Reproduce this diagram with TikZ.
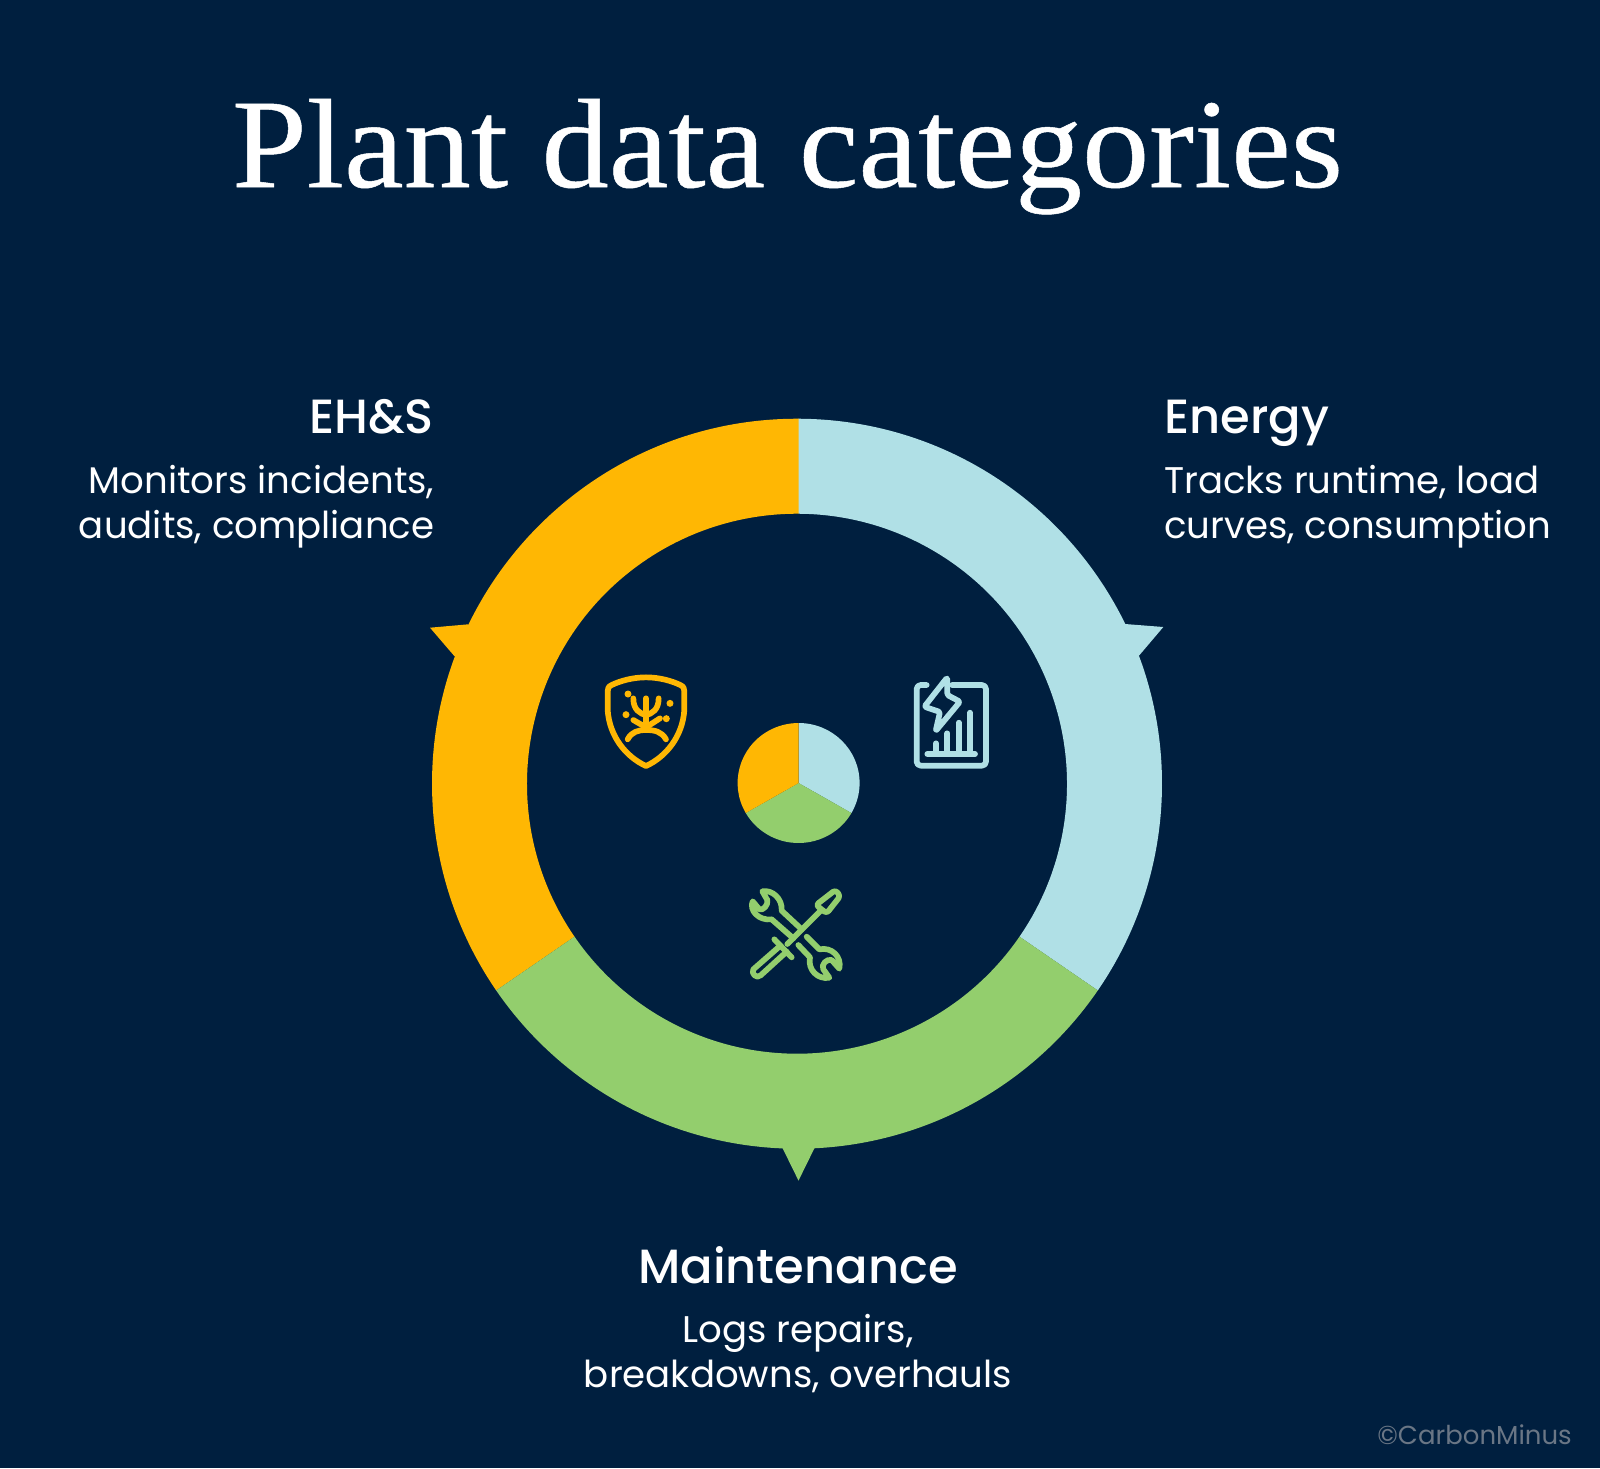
\documentclass[tikz,border=0pt]{standalone}
\usepackage{fontspec}
\setmainfont{Poppins}
\newfontfamily\titlefont[FakeBold=0.4]{Liberation Serif}
\newfontfamily\headfont{Poppins Medium}
\definecolor{bg}{HTML}{001F3F}
\definecolor{amber}{HTML}{FFB703}
\definecolor{pale}{HTML}{B0E0E6}
\definecolor{leaf}{HTML}{93CE6D}
\definecolor{wmark}{HTML}{6A7685}
\tikzset{
  heading/.style={text=white,font=\headfont\fontsize{48}{56}\selectfont,inner sep=0pt},
  bodytext/.style={text=white,font=\fontsize{37.1}{45}\selectfont,inner sep=0pt},
  iconline/.style={line width=5.7pt,line cap=round,line join=round},
}
\begin{document}
\begin{tikzpicture}[x=1pt,y=-1pt]
\useasboundingbox (0,0) rectangle (1600,1468);
\fill[bg] (0,0) rectangle (1600,1468);
% pointers
\fill[amber] (468.3,624.3) -- (430,627.7) -- (454.3,656) -- (490,660) -- cycle;
\fill[pale] (1125,624) -- (1163.3,627) -- (1139.3,655.3) -- (1105,660) -- cycle;
\fill[leaf] (781,1145) -- (798.5,1180.6) -- (816,1145) -- cycle;
% ring
\begin{scope}[y=1pt,shift={(797pt,-783.7pt)}]
\fill[amber] (89.7:365) arc (89.7:214.5:365) -- (214.5:270) arc (214.5:89.6:270) -- cycle;
\fill[pale] (89.76:365) arc (89.76:-34.5:365) -- (-34.5:270) arc (-34.5:89.68:270) -- cycle;
\fill[leaf] (214.5:365) arc (214.5:325.5:365) -- (325.5:270) arc (325.5:214.5:270) -- cycle;
\end{scope}
% pie
\begin{scope}[y=1pt,shift={(798.6pt,-783pt)}]
\fill[pale] (0,0) -- (0,60) arc[start angle=90,end angle=-30,x radius=61,y radius=60] -- cycle;
\fill[leaf] (0,0) -- (-30:61 and 60) arc[start angle=-30,end angle=-150,x radius=61,y radius=60] -- cycle;
\fill[amber] (0,0) -- (-150:61 and 60) arc[start angle=-150,end angle=-270,x radius=61,y radius=60] -- cycle;
\end{scope}
% shield icon
\begin{scope}[shift={(580pt,-650pt)},x=0.3333pt,y=-0.3333pt,iconline,draw=amber,fill=amber]
\draw (198,82) .. controls (160,82) and (122,92) .. (95,105) .. controls (85,110) and (83,115) .. (83,124) -- (83,180) .. controls (88,258) and (137,320) .. (198,348) .. controls (259,320) and (308,258) .. (313,180) -- (313,124) .. controls (313,115) and (311,110) .. (301,105) .. controls (274,92) and (236,82) .. (198,82) -- cycle;
\draw (198,145) -- (198,236);
\draw (160,145) .. controls (160,180) and (180,190) .. (198,196);
\draw (236,145) .. controls (236,180) and (216,190) .. (198,196);
\draw (160,210) -- (198,232);
\draw (240,205) -- (198,232);
\draw (143,268) .. controls (155,245) and (175,240) .. (198,240) .. controls (225,240) and (245,245) .. (258,268);
\fill (144,132) circle (10.5);
\fill (270,160) circle (10.5);
\fill (138,194) circle (10.5);
\fill (259,206) circle (10.5);
\end{scope}
% report icon
\begin{scope}[shift={(890pt,-650pt)},x=0.3333pt,y=-0.3333pt,iconline,draw=pale]
\draw[rounded corners=4pt] (110,105) -- (80,105) -- (80,347) -- (288,347) -- (288,105) -- (186,105);
\draw[rounded corners=1.5pt] (172,82) -- (103,170) -- (150,186) -- (137,243) -- (210,155) -- (172,135) -- cycle;
\draw (138,280) -- (138,310);
\draw (172,250) -- (172,310);
\draw (206,218) -- (206,310);
\draw (240,188) -- (240,310);
\draw (112,312) -- (255,312);
\end{scope}
% tools icon
\begin{scope}[shift={(730pt,-870pt)},x=0.3333pt,y=-0.3333pt,iconline,draw=leaf]
\draw[rounded corners=3pt] (258,105) -- (316,60) -- (331,78) -- (290,130) -- cycle;
\draw (272,122) -- (172,222);
\draw (133,208) -- (185,262);
\draw (150,228) -- (70,298) .. controls (62,310) and (80,328) .. (92,316) -- (170,245);
\draw (215,178) -- (155,122) .. controls (158,85) and (125,58) .. (97,64) -- (112,90) .. controls (115,105) and (100,122) .. (88,118) -- (68,94) .. controls (57,120) and (85,153) .. (125,148) -- (190,205);
\draw (230,200) -- (268,238) .. controls (305,230) and (336,260) .. (328,296) -- (305,270) .. controls (290,265) and (272,285) .. (280,298) -- (298,323) .. controls (265,330) and (232,300) .. (240,262) -- (205,225);
\end{scope}
% texts
\node[anchor=base,text=white,inner sep=0pt,xscale=1.057,font=\titlefont\fontsize{127}{140}\selectfont] (title) at (787.5,187) {Plant data categories};
\node[heading,anchor=base east] (ehsh) at (434,433) {EH\&S};
\node[bodytext,anchor=base east] (ehs1) at (434.5,493) {Monitors incidents,};
\node[bodytext,anchor=base east] (ehs2) at (434.5,538) {audits, compliance};
\node[heading,anchor=base west] (enh) at (1164,433) {Energy};
\node[bodytext,anchor=base west] (en1) at (1164,493) {Tracks runtime, load};
\node[bodytext,anchor=base west] (en2) at (1164,538) {curves, consumption};
\node[heading,anchor=base] (mh) at (798,1283) {Maintenance};
\node[bodytext,anchor=base] (m1) at (798,1342) {Logs repairs,};
\node[bodytext,anchor=base] (m2) at (798,1387) {breakdowns, overhauls};
\node[anchor=base east,inner sep=0pt,text=wmark,font=\fontsize{26}{30}\selectfont] (wm) at (1572,1444) {©CarbonMinus};
\end{tikzpicture}
\end{document}
